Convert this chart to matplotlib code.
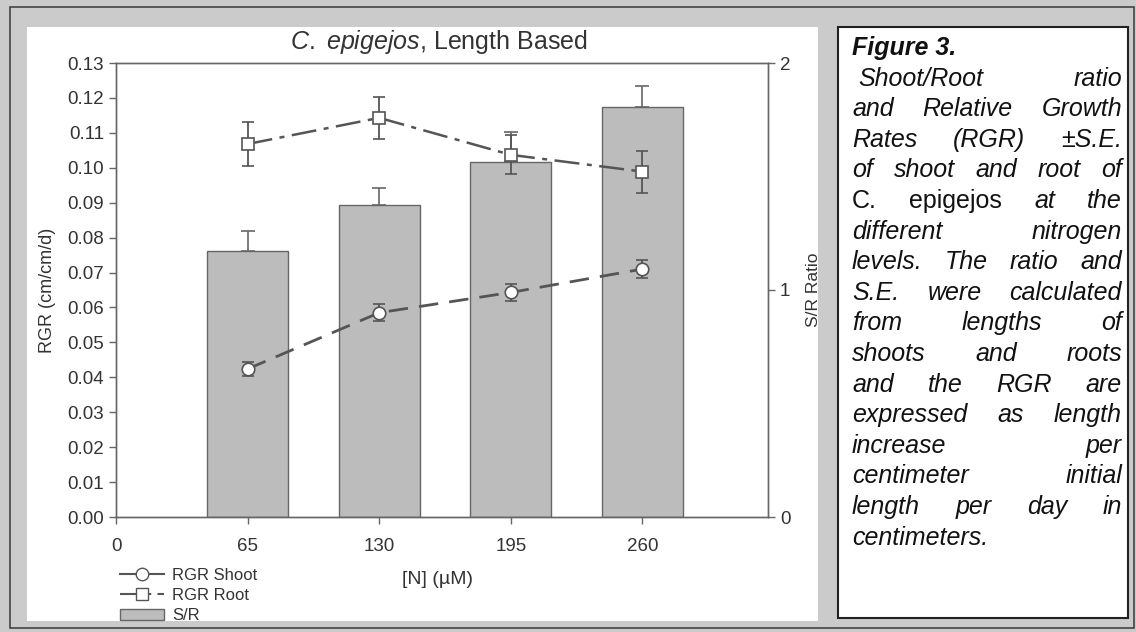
import matplotlib
matplotlib.use('Agg')
import matplotlib.pyplot as plt
from matplotlib.patches import Rectangle
from matplotlib.lines import Line2D

plt.rcParams['font.family'] = ['Liberation Sans', 'DejaVu Sans']
plt.rcParams['mathtext.fontset'] = 'custom'
plt.rcParams['mathtext.it'] = 'Liberation Sans:italic'
plt.rcParams['mathtext.rm'] = 'Liberation Sans'

# data
n_levels = [65, 130, 195, 260]
sr_ratio = [1.173, 1.375, 1.565, 1.807]
sr_err = [0.085, 0.075, 0.13, 0.092]
rgr_shoot = [0.0424, 0.0585, 0.0643, 0.0710]
rgr_shoot_se = [0.0021, 0.0025, 0.0025, 0.0027]
rgr_root = [0.1068, 0.1143, 0.1037, 0.0989]
rgr_root_se = [0.0063, 0.0061, 0.0056, 0.0060]
x_ticks = [0, 65, 130, 195, 260]

caption = [
    ' Shoot/Root ratio',
    'and Relative Growth',
    'Rates (RGR) \u00b1S.E.',
    'of shoot and root of',
    'C. epigejos at the',
    'different nitrogen',
    'levels. The ratio and',
    'S.E. were calculated',
    'from lengths of',
    'shoots and roots',
    'and the RGR are',
    'expressed as length',
    'increase per',
    'centimeter initial',
    'length per day in',
    'centimeters.',
]

W, H = 1136, 632
fig = plt.figure(figsize=(W / 100, H / 100), dpi=100)
fig.patch.set_facecolor('#cbcbcb')


def px(x0, y0, x1, y1):
    # pixel box -> figure fraction (left, bottom, width, height)
    return x0 / W, 1 - y1 / H, (x1 - x0) / W, (y1 - y0) / H


# frame and panels (drawn below the axes)
l, b, w, h = px(10, 7, 1134, 628)
fig.patches.append(Rectangle((l, b), w, h, transform=fig.transFigure,
                             fc='none', ec='#444444', lw=1.2, zorder=-5))
l, b, w, h = px(27, 27, 818, 621)
fig.patches.append(Rectangle((l, b), w, h, transform=fig.transFigure,
                             fc='white', ec='none', zorder=-5))
l, b, w, h = px(838, 27, 1128, 618)
fig.patches.append(Rectangle((l, b), w, h, transform=fig.transFigure,
                             fc='white', ec='#222222', lw=1.5, zorder=-5))

ax = fig.add_axes(px(116, 63, 768, 517))
ax2 = ax.twinx()

gray = '#555555'
ax2.bar(n_levels, sr_ratio, width=40, color='#bcbcbc', edgecolor='#666666',
        linewidth=1.0, zorder=2)
ax2.errorbar(n_levels, sr_ratio, yerr=[[0] * 4, sr_err], fmt='none',
             ecolor='#666666', elinewidth=1.2, capsize=5, capthick=1.2, zorder=1)

ax.set_zorder(ax2.get_zorder() + 1)
ax.patch.set_visible(False)

ax.errorbar(n_levels, rgr_root, yerr=rgr_root_se, color=gray, marker='s',
            ms=8.5, mfc='white', mec=gray, mew=1.2, lw=1.8,
            dashes=(10, 3, 2, 3), capsize=4, capthick=1.5, elinewidth=1.3)
ax.errorbar(n_levels, rgr_shoot, yerr=rgr_shoot_se, color=gray, marker='o',
            ms=9, mfc='white', mec=gray, mew=1.2, lw=2.0,
            dashes=(7, 4), capsize=4, capthick=1.5, elinewidth=1.3)

ax.set_xlim(0, 322)
ax.set_ylim(0, 0.13)
ax2.set_ylim(0, 2)
ax.set_xticks(x_ticks)
ax.set_yticks([i / 100 for i in range(14)])
ax.set_yticklabels(['%.2f' % (i / 100) for i in range(14)])
ax2.set_yticks([0, 1, 2])

for a in (ax, ax2):
    for s in a.spines.values():
        s.set_color('#666666')
        s.set_linewidth(1.0)
    a.tick_params(colors='#666666', labelcolor='#333333', length=5,
                  width=1, labelsize=13.5)
ax.tick_params(axis='x', pad=10)

ax.set_ylabel('RGR (cm/cm/d)', fontsize=13, color='#333333', labelpad=8)
ax2.set_ylabel('S/R Ratio', fontsize=12.5, color='#333333', labelpad=11)
fig.text(438 / W, 1 - 579 / H, '[N] (\u00b5M)', fontsize=14, color='#333333',
         ha='center', va='center')

fig.text(439 / W, 1 - 42 / H, r'$C.$ $epigejos$, Length Based', fontsize=18,
         color='#333333', ha='center', va='center')

handles = [
    Line2D([], [], color=gray, lw=1.5, marker='o', ms=9, mfc='white', mec=gray),
    Line2D([], [], color=gray, lw=1.5, marker='s', ms=8, mfc='white', mec=gray,
           dashes=(10, 3, 2, 3)),
    Rectangle((0, 0), 1, 1, fc='#bcbcbc', ec='#666666'),
]
fig.legend(handles, ['RGR Shoot', 'RGR Root', 'S/R'], loc='upper left',
           bbox_to_anchor=(112 / W, 1 - 560 / H), frameon=False, fontsize=12,
           handlelength=2.6, handletextpad=0.5, labelspacing=0.3,
           borderpad=0, labelcolor='#333333')

# caption box, justified lines
cap_size = 18
fig.text(852 / W, 1 - 48 / H, 'Figure 3.', fontsize=cap_size, fontweight='bold',
         style='italic', color='#111111', va='center', ha='left')
renderer = fig.canvas.get_renderer()
left_px, right_px = 852, 1122
for i, line in enumerate(caption):
    y = 1 - (48 + (i + 1) * 30.6) / H
    words = line.strip().split(' ')
    styles = ['italic'] * len(words)
    if line.startswith('C. epigejos'):
        styles[0] = 'normal'
        styles[1] = 'normal'
    lx = left_px + (6 if line.startswith(' ') else 0)
    texts = []
    for wd, st in zip(words, styles):
        t = fig.text(0, y, wd, fontsize=cap_size, style=st, color='#111111',
                     va='center', ha='left')
        texts.append(t)
    widths = [t.get_window_extent(renderer).width for t in texts]
    if i == len(caption) - 1:
        gap = 6
    else:
        gap = (right_px - lx - sum(widths)) / (len(words) - 1)
    xcur = lx
    for t, wdt in zip(texts, widths):
        t.set_x(xcur / W)
        xcur += wdt + gap

fig.savefig('out.png', dpi=100, facecolor=fig.get_facecolor())
